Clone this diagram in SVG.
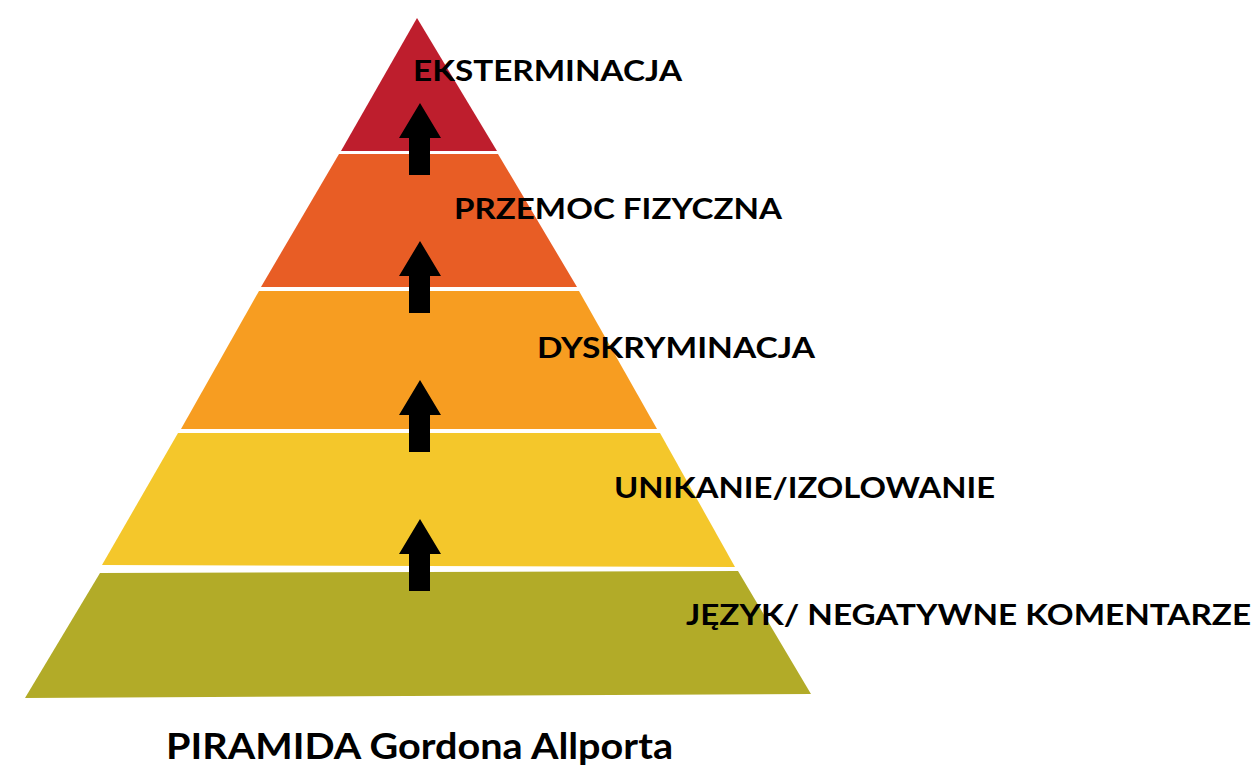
<svg xmlns="http://www.w3.org/2000/svg" width="1256" height="765" viewBox="0 0 1256 765">
<style>
.lbl{font-family:Lato,"Open Sans","Liberation Sans",sans-serif;font-weight:700;font-size:29px;fill:#000}
.title{font-family:Lato,"Open Sans","Liberation Sans",sans-serif;font-weight:700;font-size:37px;fill:#000}
.arrow{fill:#000}
</style>
<defs>
<path id="arr" d="M0,0 L21,35 L10,35 L10,72 L-11,72 L-11,35 L-21,35 Z"/>
</defs>
<rect width="1256" height="765" fill="#fff"/>
<g id="level5"><polygon points="417,18 497,151 341,151" fill="#BE1E2D"/></g>
<g id="level4"><polygon points="339,154 498,154 577,287 261,287" fill="#E85D25"/></g>
<g id="level3"><polygon points="259,291 579,291 657,429 181,429" fill="#F79D21"/></g>
<g id="level2"><polygon points="178,433 660,433 735,567 102,565" fill="#F4C72B"/></g>
<g id="level1"><polygon points="100,573 738,571 811,694 25,698" fill="#B2AB28"/></g>
<g id="connectors">
<use href="#arr" class="arrow" x="420" y="103"/>
<use href="#arr" class="arrow" x="420" y="241"/>
<use href="#arr" class="arrow" x="420" y="380"/>
<use href="#arr" class="arrow" x="420" y="519"/>
</g>
<g id="labels">
<text class="lbl" x="413" y="81" textLength="269" lengthAdjust="spacingAndGlyphs">EKSTERMINACJA</text>
<text class="lbl" x="454" y="219" textLength="328" lengthAdjust="spacingAndGlyphs">PRZEMOC FIZYCZNA</text>
<text class="lbl" x="537" y="358" textLength="278" lengthAdjust="spacingAndGlyphs">DYSKRYMINACJA</text>
<text class="lbl" x="614" y="498" textLength="381" lengthAdjust="spacingAndGlyphs">UNIKANIE/IZOLOWANIE</text>
<text class="lbl" x="686" y="625" textLength="565" lengthAdjust="spacingAndGlyphs">JĘZYK/ NEGATYWNE KOMENTARZE</text>
<text class="title" x="166" y="759" textLength="507" lengthAdjust="spacingAndGlyphs">PIRAMIDA Gordona Allporta</text>
</g>
</svg>
